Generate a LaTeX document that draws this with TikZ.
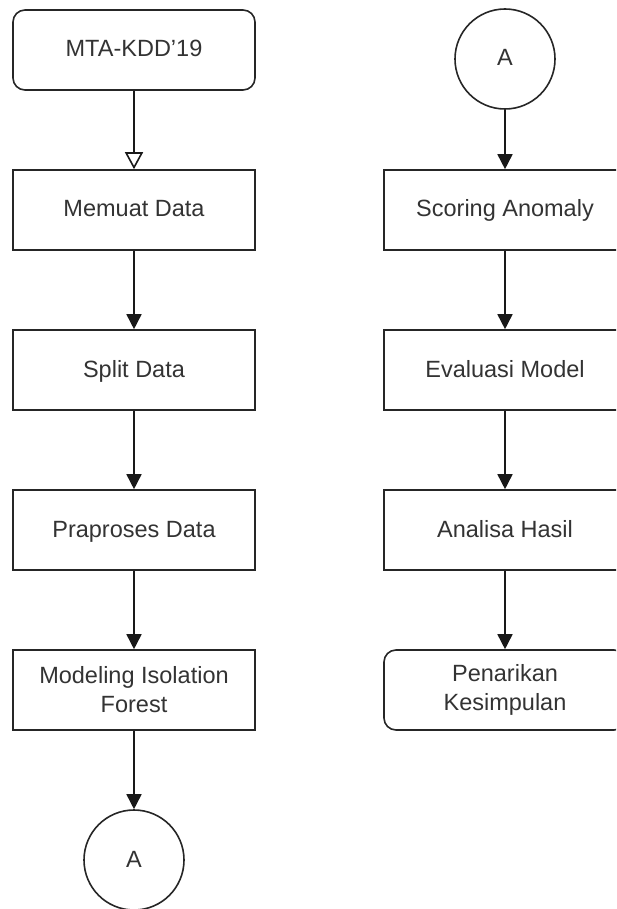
\documentclass[tikz,border=0pt]{standalone}
\usepackage{fontspec}
\setmainfont{Liberation Sans}
\usetikzlibrary{arrows.meta}
\definecolor{txt}{HTML}{333333}
\begin{document}
\begin{tikzpicture}[x=1pt,y=-1pt,
  every node/.style={font=\fontsize{23.5}{29}\selectfont, text=txt, align=center},
  one/.style={text height=19pt, text depth=5pt},
  box/.style={draw=black!85, line width=1.6pt, minimum width=242pt, minimum height=80pt, inner sep=0pt},
  rbox/.style={box, rounded corners=12pt},
  conn/.style={draw=black!85, line width=1.6pt, circle, minimum size=100pt, inner sep=0pt, one},
  flow/.style={draw=black!90, line width=1.6pt, -{Triangle[width=15pt,length=15pt]}},
  openflow/.style={draw=black!90, line width=1.6pt, -{Triangle[open,width=18pt,length=17pt,fill=white]}}
]
\path[use as bounding box, clip] (0,0) rectangle (616,909);
\node[rbox, one] (mta) at (134,50) {MTA-KDD'19};
\node[box, one] (muat) at (134,210) {Memuat Data};
\node[box, one] (split) at (134,370) {Split Data};
\node[box, one] (prap) at (134,530) {Praproses Data};
\node[box] (model) at (134,690) {Modeling Isolation\\Forest};
\node[conn] (a1) at (134,860) {A};

\node[conn] (a2) at (505,59) {A};
\node[box, one] (score) at (505,210) {Scoring Anomaly};
\node[box, one] (eval) at (505,370) {Evaluasi Model};
\node[box, one] (anal) at (505,530) {Analisa Hasil};
\node[rbox] (tarik) at (505,690) {Penarikan\\Kesimpulan};

\draw[openflow] (mta) -- (muat);
\draw[flow] (muat) -- (split);
\draw[flow] (split) -- (prap);
\draw[flow] (prap) -- (model);
\draw[flow] (model) -- (a1);
\draw[flow] (a2) -- (score);
\draw[flow] (score) -- (eval);
\draw[flow] (eval) -- (anal);
\draw[flow] (anal) -- (tarik);
\end{tikzpicture}
\end{document}
